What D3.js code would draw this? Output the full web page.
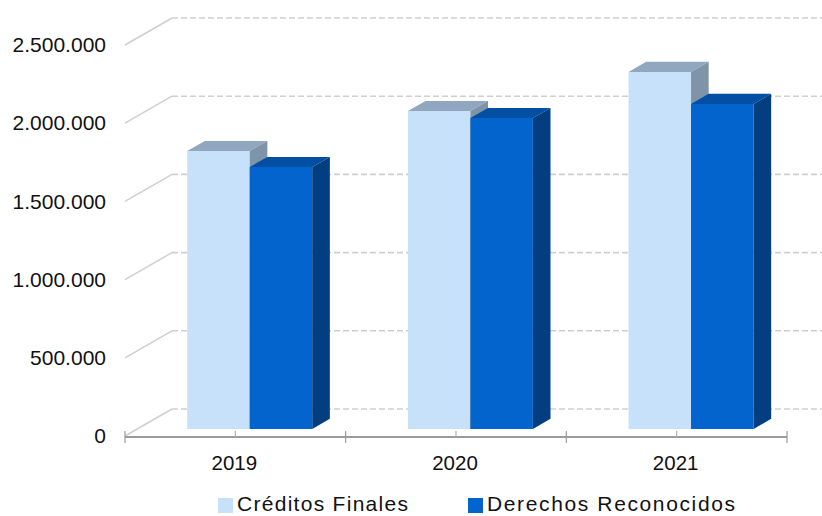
<!DOCTYPE html>
<html>
<head>
<meta charset="utf-8">
<script src="https://cdn.jsdelivr.net/npm/d3@7"></script>
<style>
  html, body { margin: 0; padding: 0; background: #fff; }
  svg { display: block; font-family: "Liberation Sans", Arial, Helvetica, sans-serif; }
</style>
</head>
<body>
<svg id="chart" width="822" height="516"></svg>
<script>
// ---- data ----
const years = ["2019", "2020", "2021"];
const seriesNames = ["Créditos Finales", "Derechos Reconocidos"];
const creditosFinales = [1777000, 2033000, 2283000];
const derechosReconocidos = [1675000, 1988000, 2078000];
const yTickValues = [0, 500000, 1000000, 1500000, 2000000, 2500000];

// ---- styles ----
const palette = {
  "Créditos Finales":     { front: "#C7E1FA", top: "#91A7BF", side: "#7F93A9" },
  "Derechos Reconocidos": { front: "#0264CC", top: "#034FA4", side: "#033F80" }
};

const svg = d3.select("#chart");
const W = 822, H = 516;

// 3D layout
const DX = 47, DY = -27;          // full depth offset
const barD0 = 0.26, barD1 = 0.635; // bar front/back depth fractions
const proj = (x, y, d) => [x + d * DX, y + d * DY];

const y = d3.scaleLinear().domain([0, 2500000]).range([436, 45]);
const x0 = d3.scaleBand().domain(years).range([125, 787]).padding(0);
const groupOffset = 50, groupWidth = 125;
const x1 = d3.scaleBand().domain(seriesNames).range([0, groupWidth]).padding(0);

const esLocale = d3.formatLocale({ decimal: ",", thousands: ".", grouping: [3], currency: ["", " €"] });
const fmt = esLocale.format(",d");

// ---- gridlines on back wall + diagonal side-wall lines ----
const grid = svg.append("g");
grid.selectAll("line.diag").data(yTickValues).join("line")
  .attr("class", "diag")
  .attr("x1", 125).attr("y1", d => y(d))
  .attr("x2", 125 + DX).attr("y2", d => y(d) + DY)
  .attr("stroke", "#cfcfcf").attr("stroke-width", 1.5);
grid.selectAll("line.grid").data(yTickValues).join("line")
  .attr("class", "grid")
  .attr("x1", 125 + DX).attr("y1", d => y(d) + DY)
  .attr("x2", W).attr("y2", d => y(d) + DY)
  .attr("stroke", "#cfcfcf").attr("stroke-width", 1.6)
  .attr("stroke-dasharray", "6,3");

// ---- y labels via axis ----
const yAxis = d3.axisLeft(y).tickValues(yTickValues).tickFormat(fmt).tickSize(0).tickPadding(0);
const ya = svg.append("g").attr("transform", "translate(106,0)").call(yAxis);
ya.select(".domain").remove();
ya.selectAll("text").attr("font-size", 21).attr("fill", "#111")
  .attr("font-family", "\"Liberation Sans\", Arial, sans-serif");

// ---- category axis ----
const axisY = 437;
svg.append("line").attr("x1", 125).attr("x2", 787).attr("y1", axisY).attr("y2", axisY)
  .attr("stroke", "#9a9a9a").attr("stroke-width", 2);
const bounds = years.map(d => x0(d)).concat([x0(years[years.length - 1]) + x0.bandwidth()]);
svg.selectAll("line.btick").data(bounds).join("line")
  .attr("class", "btick")
  .attr("x1", d => d).attr("x2", d => d).attr("y1", axisY - 6).attr("y2", axisY + 6)
  .attr("stroke", "#9a9a9a").attr("stroke-width", 1.2);
svg.selectAll("line.ctick").data(years).join("line")
  .attr("class", "ctick")
  .attr("x1", d => x0(d) + x0.bandwidth() / 2).attr("x2", d => x0(d) + x0.bandwidth() / 2)
  .attr("y1", axisY - 6).attr("y2", axisY)
  .attr("stroke", "#b0b0b0").attr("stroke-width", 1.2);
svg.selectAll("text.year").data(years).join("text")
  .attr("class", "year")
  .attr("x", d => x0(d) + x0.bandwidth() / 2 - 1)
  .attr("y", 470)
  .attr("text-anchor", "middle")
  .attr("font-size", 20.5)
  .attr("fill", "#111")
  .text(d => d);

// ---- 3D bars ----
const barData = [];
years.forEach((yr, i) => {
  barData.push({ year: yr, series: seriesNames[0], value: creditosFinales[i] });
  barData.push({ year: yr, series: seriesNames[1], value: derechosReconocidos[i] });
});
const pts = a => a.map(p => p.join(",")).join(" ");
const bars = svg.append("g");
barData.forEach(d => {
  const xl = x0(d.year) + groupOffset + x1(d.series);
  const xr = xl + x1.bandwidth();
  const yt = y(d.value), yb = y(0);
  const c = palette[d.series];
  const g = bars.append("g");
  // front
  g.append("polygon").attr("fill", c.front).attr("points", pts([
    proj(xl, yt, barD0), proj(xr, yt, barD0), proj(xr, yb, barD0), proj(xl, yb, barD0)]));
  // top
  g.append("polygon").attr("fill", c.top).attr("points", pts([
    proj(xl, yt, barD0), proj(xr, yt, barD0), proj(xr, yt, barD1), proj(xl, yt, barD1)]));
  // side
  g.append("polygon").attr("fill", c.side).attr("points", pts([
    proj(xr, yt, barD0), proj(xr, yt, barD1), proj(xr, yb, barD1), proj(xr, yb, barD0)]));
});

// ---- legend ----
const legendX = [218, 468];
const legendTextLen = [171, 248];
const leg = svg.append("g");
seriesNames.forEach((s, i) => {
  leg.append("rect").attr("x", legendX[i]).attr("y", 498).attr("width", 15).attr("height", 15)
    .attr("fill", palette[s].front);
  leg.append("text").attr("x", legendX[i] + 19).attr("y", 511)
    .attr("font-size", 21).attr("fill", "#111")
    .attr("textLength", legendTextLen[i]).attr("lengthAdjust", "spacing")
    .text(s);
});
</script>
</body>
</html>
